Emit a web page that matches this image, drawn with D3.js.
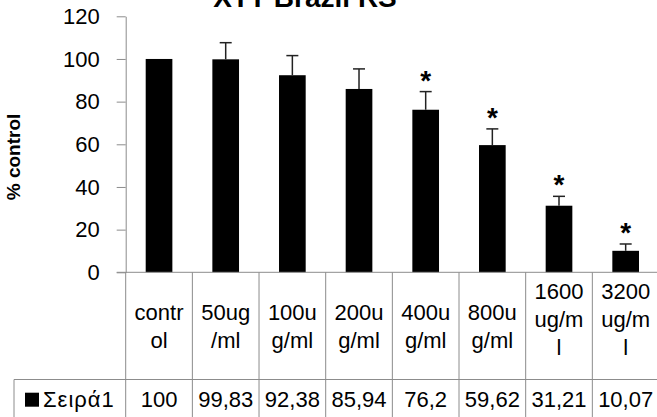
<!DOCTYPE html>
<html>
<head>
<meta charset="utf-8">
<script src="https://cdn.jsdelivr.net/npm/d3@7"></script>
<style>
  html, body { margin: 0; padding: 0; background: #fff; }
  svg { display: block; font-family: "Liberation Sans", Arial, sans-serif; }
</style>
</head>
<body>
<svg id="chart" width="657" height="417"></svg>
<script>
// ---- data ----
const title = "XTT Brazil RS";
const yLabel = "% control";
const seriesName = "Σειρά1";
const categories = ["control", "50ug/ml", "100ug/ml", "200ug/ml", "400ug/ml", "800ug/ml", "1600ug/ml", "3200ug/ml"];
const categoryLines = [["contr", "ol"], ["50ug", "/ml"], ["100u", "g/ml"], ["200u", "g/ml"], ["400u", "g/ml"], ["800u", "g/ml"], ["1600", "ug/m", "l"], ["3200", "ug/m", "l"]];
const values = [100, 99.83, 92.38, 85.94, 76.2, 59.62, 31.21, 10.07];
const errors = [0, 7.8, 9.2, 9.4, 8.5, 7.6, 4.4, 3.2];
const significant = [false, false, false, false, true, true, true, true];
const yTicks = [0, 20, 40, 60, 80, 100, 120];

// ---- layout ----
const svg = d3.select("#chart");
const plotLeft = 125.7, plotRight = 659, plotTop = 16.3, plotBottom = 272.3;
const catRowBottom = 379.5, tableLeft = 14, tableBottom = 430;
const axisColor = "#8c8c8c";
const fontSize = 22;

const x = d3.scaleBand().domain(categories).range([plotLeft, plotRight]).paddingInner(0).paddingOuter(0);
const y = d3.scaleLinear().domain([0, 120]).range([plotBottom, plotTop]);
const bw = x.bandwidth() * 0.4;

// title (partly above the top edge, as in the reference)
svg.append("text")
  .attr("x", 305).attr("y", 7)
  .attr("text-anchor", "middle")
  .attr("font-weight", "bold").attr("font-size", 28)
  .text(title);

// y axis label
svg.append("text")
  .attr("transform", "translate(20,157) rotate(-90)")
  .attr("text-anchor", "middle")
  .attr("font-weight", "bold").attr("font-size", 19)
  .text(yLabel);

// y axis
const yAxis = svg.append("g")
  .attr("transform", `translate(${plotLeft},0)`)
  .call(d3.axisLeft(y).tickValues(yTicks).tickSize(9).tickPadding(17).tickSizeOuter(0));
yAxis.select(".domain").attr("stroke", axisColor);
yAxis.selectAll(".tick line").attr("stroke", axisColor);
yAxis.selectAll(".tick text").attr("font-size", fontSize).attr("fill", "#000")
  .attr("font-family", "Liberation Sans, Arial, sans-serif");

// bars
svg.append("g").selectAll("rect").data(categories).join("rect")
  .attr("x", (c) => x(c) + (x.bandwidth() - bw) / 2)
  .attr("width", bw)
  .attr("y", (c, i) => y(values[i]))
  .attr("height", (c, i) => y(0) - y(values[i]))
  .attr("fill", "#000");

// error bars
const eg = svg.append("g").attr("stroke", "#222").attr("stroke-width", 1.5);
categories.forEach((c, i) => {
  if (!errors[i]) return;
  const cx = x(c) + x.bandwidth() / 2;
  eg.append("line").attr("x1", cx).attr("x2", cx).attr("y1", y(values[i])).attr("y2", y(values[i] + errors[i]));
  eg.append("line").attr("x1", cx - 6).attr("x2", cx + 6).attr("y1", y(values[i] + errors[i])).attr("y2", y(values[i] + errors[i]));
});

// asterisks
svg.append("g").selectAll("text").data(categories.filter((c, i) => significant[i])).join("text")
  .attr("x", (c) => x(c) + x.bandwidth() / 2)
  .attr("y", (c) => { const i = categories.indexOf(c); return y(values[i] + errors[i]) - 2; })
  .attr("text-anchor", "middle")
  .attr("font-weight", "bold")
  .attr("font-size", 28)
  .text("*");

// data table lines
const tg = svg.append("g").attr("stroke", axisColor).attr("stroke-width", 1);
tg.append("line").attr("x1", plotLeft - 9).attr("x2", plotRight).attr("y1", plotBottom).attr("y2", plotBottom);
const bounds = categories.map((c) => x(c)).concat([plotRight]);
bounds.forEach((b) => {
  tg.append("line").attr("x1", b).attr("x2", b).attr("y1", plotBottom).attr("y2", tableBottom);
});
tg.append("line").attr("x1", tableLeft).attr("x2", plotRight).attr("y1", catRowBottom).attr("y2", catRowBottom);
tg.append("line").attr("x1", tableLeft).attr("x2", tableLeft).attr("y1", catRowBottom).attr("y2", tableBottom);

// category labels
const lineH = 28;
const rowMid = (plotBottom + catRowBottom) / 2;
categories.forEach((c, i) => {
  const lines = categoryLines[i];
  const cx = x(c) + x.bandwidth() / 2;
  const start = rowMid - (lines.length - 1) * lineH / 2 - (lines.length > 2 ? 7 : 0);
  lines.forEach((ln, k) => {
    svg.append("text")
      .attr("x", cx).attr("y", start + k * lineH + 7.7)
      .attr("text-anchor", "middle")
      .attr("font-size", fontSize)
      .text(ln);
  });
});

// series row
svg.append("rect").attr("x", 25).attr("y", 392.7).attr("width", 14).attr("height", 14).attr("fill", "#000");
svg.append("text").attr("x", 43).attr("y", 406.5).attr("font-size", fontSize).attr("letter-spacing", 1).text(seriesName);
svg.append("g").selectAll("text").data(categories).join("text")
  .attr("x", (c) => x(c) + x.bandwidth() / 2)
  .attr("y", 406.5)
  .attr("text-anchor", "middle")
  .attr("font-size", fontSize)
  .text((c, i) => String(values[i]).replace(".", ","));
</script>
</body>
</html>
